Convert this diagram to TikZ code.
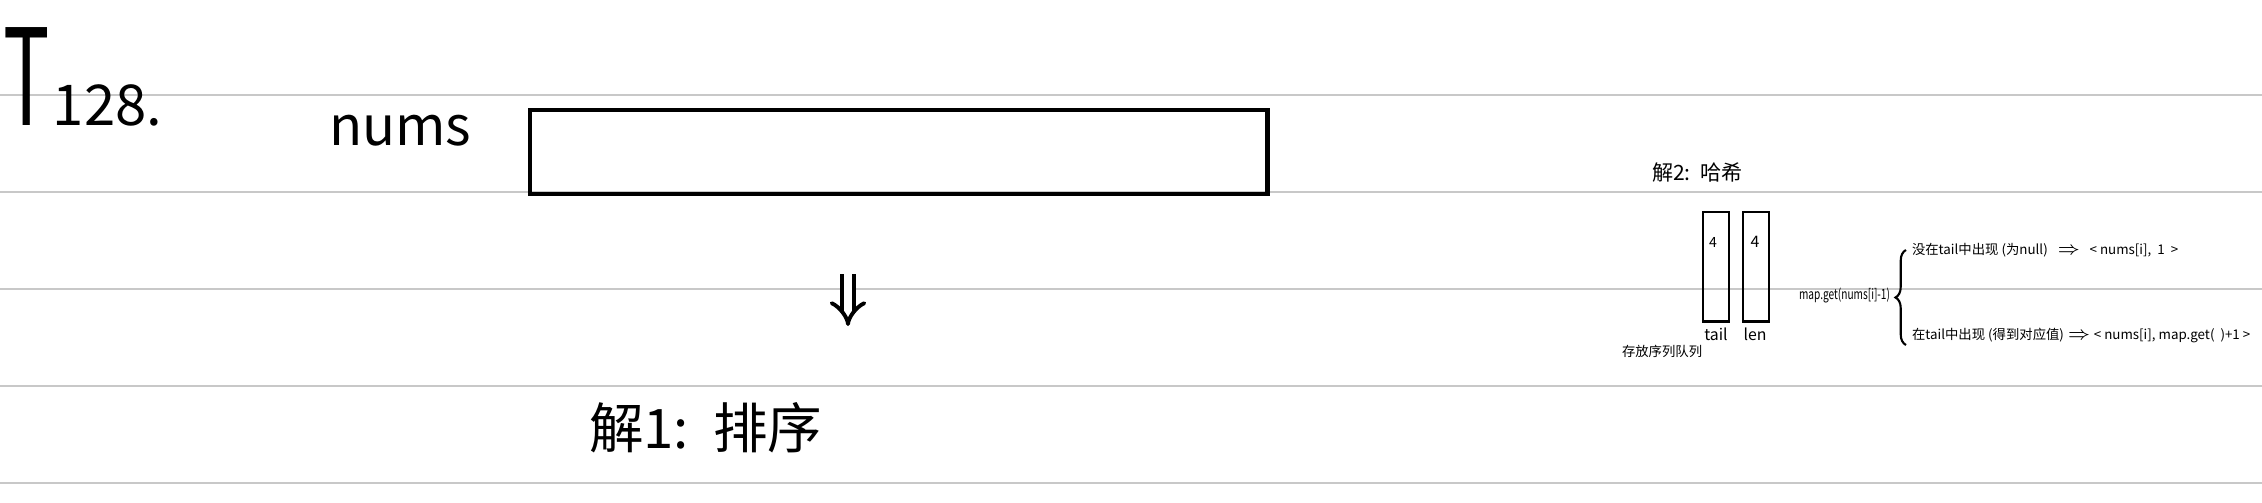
\documentclass[tikz,border=0pt]{standalone}
\usepackage{fontspec}
\setmainfont{Noto Sans CJK SC}
\usetikzlibrary{arrows.meta,decorations.pathreplacing}
\definecolor{rulegray}{HTML}{C8C8C8}
\tikzset{
  rule/.style={draw=rulegray, line width=0.6pt},
  hand/.style={inner sep=0pt, outer sep=0pt},
  bigbox/.style={draw, line width=1.2pt, inner sep=0pt},
  thinbox/.style={draw, line width=0.7pt, inner sep=0pt, minimum width=0.26cm, minimum height=1.09cm, anchor=north west},
  dblarrow/.style={double, double distance=2.4pt, line width=1.1pt, -{Implies}},
  bracestyle/.style={decorate, decoration={brace, amplitude=3pt}, line width=0.6pt}
}
\begin{document}
\begin{tikzpicture}[x=0.01cm, y=-0.01cm]
\path[use as bounding box] (0,0) rectangle (2262,503);
\foreach \yy in {95,192,289,386,483} \draw[rule] (0,\yy) -- (2262,\yy);

% left part
\node[hand, anchor=base west] (titleT) at (3,125) {\scalebox{0.58}[1]{\fontsize{38}{38}\selectfont T}};
\node[hand, anchor=base west] (title) at (53,125) {\fontsize{16}{16}\selectfont 128.};
\node[hand, anchor=base west] (numslbl) at (329,146) {\fontsize{15.5}{15.5}\selectfont nums};
\node[bigbox, anchor=north west, minimum width=7.37cm, minimum height=0.84cm] (numsbox) at (528,108) {};
\coordinate (arrtop) at (848,274);
\coordinate (arrbot) at (848,326);
\draw[dblarrow] (arrtop) -- (arrbot);
\node[hand, anchor=west] (sol1) at (589,428) {\fontsize{15.5}{15.5}\selectfont 解1:~~排序};

% right part
\node[hand, anchor=west] (sol2) at (1652,172) {\fontsize{6}{6}\selectfont 解2:~~哈希};
\node[thinbox] (tailbox) at (1702,211) {};
\node[thinbox] (lenbox) at (1742,211) {};
\node[hand] (tailval) at (1713,242) {\fontsize{4}{4}\selectfont 4};
\node[hand] (lenval) at (1755,242) {\fontsize{4.5}{4.5}\selectfont 4};
\node[hand] (taillbl) at (1716,334) {\fontsize{4.5}{4.5}\selectfont tail};
\node[hand] (lenlbl) at (1755,334) {\fontsize{4.5}{4.5}\selectfont len};
\node[hand, anchor=west] (store) at (1622,351) {\fontsize{3.8}{3.8}\selectfont 存放序列队列};
\node[hand, anchor=east] (mapget) at (1890,296) {\scalebox{0.72}[1]{\fontsize{4}{4}\selectfont map.get(nums[i]-1)}};
\coordinate (brbot) at (1906,345);
\coordinate (brtop) at (1906,250);
\draw[bracestyle] (brbot) -- (brtop);
\node[hand, anchor=west] (br1) at (1912,250) {\fontsize{3.8}{3.8}\selectfont 没在tail中出现~(为null)~~~$\Rightarrow$~~~<~nums[i],~~1~~>};
\node[hand, anchor=west] (br2) at (1912,336) {\fontsize{3.8}{3.8}\selectfont 在tail中出现~(得到对应值)~$\Rightarrow$~<~nums[i],~map.get(~~)+1~>};
\end{tikzpicture}
\end{document}
